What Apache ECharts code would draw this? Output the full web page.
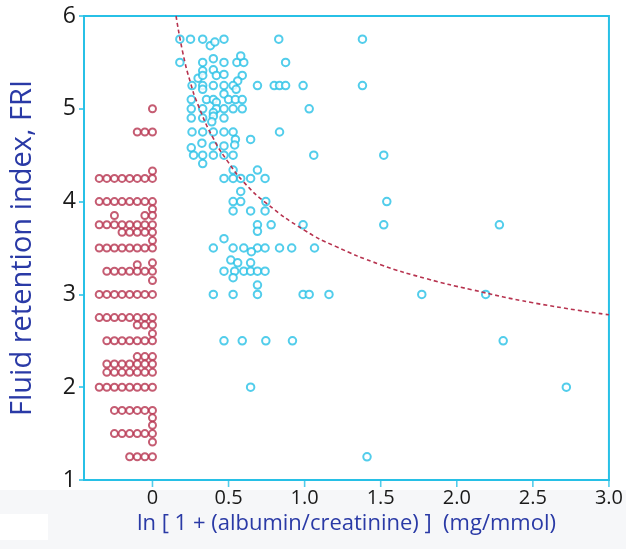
<!DOCTYPE html>
<html><head><meta charset="utf-8">
<script src="https://cdn.jsdelivr.net/npm/echarts@6/dist/echarts.min.js"></script>
<style>html,body{margin:0;padding:0;background:#fff}#c{width:626px;height:555px}</style>
</head><body><div id="c"></div>
<script>
// Albuminuria group = 0 (red) points [x, FRI]
const redPoints = [
[0,5.0],
[-0.1,4.75],[-0.05,4.75],[0,4.75],
[0,4.33],
[-0.35,4.25],[-0.3,4.25],[-0.25,4.25],[-0.2,4.25],[-0.15,4.25],[-0.1,4.25],[-0.05,4.25],[0,4.25],
[-0.35,4.0],[-0.3,4.0],[-0.25,4.0],[-0.2,4.0],[-0.15,4.0],[-0.1,4.0],[-0.05,4.0],[0,4.0],
[0,3.92],
[-0.25,3.85],[-0.05,3.85],[0,3.85],
[-0.35,3.75],[-0.3,3.75],[-0.25,3.75],[-0.2,3.75],[-0.15,3.75],[-0.1,3.75],[-0.05,3.75],[0,3.75],
[-0.2,3.67],[-0.15,3.67],[-0.1,3.67],[-0.05,3.67],[0,3.67],
[0,3.58],
[-0.35,3.5],[-0.3,3.5],[-0.25,3.5],[-0.2,3.5],[-0.15,3.5],[-0.1,3.5],[-0.05,3.5],[0,3.5],
[-0.1,3.32],[0,3.34],
[-0.3,3.25],[-0.25,3.25],[-0.2,3.25],[-0.15,3.25],[-0.1,3.25],[-0.05,3.25],[0,3.25],
[0,3.15],
[-0.35,3.0],[-0.3,3.0],[-0.25,3.0],[-0.2,3.0],[-0.15,3.0],[-0.1,3.0],[-0.05,3.0],[0,3.0],
[-0.35,2.75],[-0.3,2.75],[-0.25,2.75],[-0.2,2.75],[-0.15,2.75],[-0.1,2.75],[-0.05,2.75],[0,2.75],
[-0.1,2.67],[-0.05,2.67],[0,2.67],
[0,2.58],
[-0.3,2.5],[-0.25,2.5],[-0.2,2.5],[-0.15,2.5],[-0.1,2.5],[-0.05,2.5],[0,2.5],
[-0.1,2.33],[-0.05,2.33],[0,2.33],
[-0.3,2.25],[-0.25,2.25],[-0.2,2.25],[-0.15,2.25],[-0.1,2.25],[-0.05,2.25],[0,2.25],
[-0.3,2.16],[-0.25,2.16],[-0.2,2.16],[-0.15,2.16],[-0.1,2.16],[-0.05,2.16],[0,2.16],
[-0.35,2.0],[-0.3,2.0],[-0.25,2.0],[-0.2,2.0],[-0.15,2.0],[-0.1,2.0],[-0.05,2.0],[0,2.0],
[-0.25,1.75],[-0.2,1.75],[-0.15,1.75],[-0.1,1.75],[-0.05,1.75],[0,1.75],
[0,1.67],[0,1.59],
[-0.25,1.5],[-0.2,1.5],[-0.15,1.5],[-0.1,1.5],[-0.05,1.5],[0,1.5],
[0,1.41],
[-0.15,1.25],[-0.1,1.25],[-0.05,1.25],[0,1.25]
];

// Albuminuria > 0 (cyan) points [x, FRI]
const cyanPoints = [
[0.18,5.75],[0.25,5.75],[0.33,5.75],[0.47,5.75],[0.83,5.75],[1.38,5.75],[0.38,5.68],[0.41,5.72],
[0.18,5.5],[0.33,5.5],[0.47,5.5],[0.555,5.5],[0.6,5.5],[0.875,5.5],[0.40,5.54],[0.58,5.57],
[0.33,5.41],[0.40,5.42],
[0.30,5.33],[0.33,5.36],[0.42,5.36],[0.47,5.37],[0.59,5.36],[0.56,5.30],
[0.26,5.25],[0.33,5.25],[0.40,5.25],[0.47,5.25],[0.53,5.25],[0.69,5.25],[0.80,5.25],[0.835,5.25],[0.875,5.25],[0.99,5.25],[1.38,5.25],
[0.33,5.21],[0.55,5.21],[0.47,5.16],
[0.255,5.1],[0.355,5.1],[0.40,5.1],[0.50,5.1],[0.545,5.1],[0.59,5.1],[0.42,5.07],
[0.255,5.0],[0.33,5.0],[0.42,5.0],[0.47,5.0],[0.53,5.0],[0.59,5.0],[1.03,5.0],
[0.40,4.96],[0.40,4.92],[0.39,4.86],
[0.255,4.9],[0.33,4.9],[0.47,4.9],
[0.26,4.75],[0.33,4.75],[0.40,4.75],[0.47,4.75],[0.53,4.75],[0.835,4.75],
[0.545,4.67],[0.645,4.67],[0.54,4.61],[0.325,4.63],[0.255,4.58],[0.40,4.6],[0.47,4.6],
[0.27,4.5],[0.33,4.5],[0.40,4.5],[0.47,4.5],[0.53,4.5],[1.06,4.5],[1.52,4.5],
[0.33,4.41],
[0.53,4.34],[0.69,4.34],
[0.47,4.25],[0.53,4.25],[0.58,4.25],[0.645,4.25],[0.74,4.25],
[0.58,4.11],
[0.53,4.0],[0.58,4.0],[0.745,4.0],[1.54,4.0],
[0.53,3.9],[0.645,3.9],[0.74,3.9],
[0.69,3.75],[0.78,3.75],[0.99,3.75],[1.52,3.75],[2.28,3.75],
[0.69,3.68],
[0.47,3.6],
[0.40,3.5],[0.53,3.5],[0.60,3.5],[0.69,3.5],[0.74,3.5],[0.835,3.5],[0.915,3.5],[1.065,3.5],
[0.65,3.46],
[0.515,3.37],[0.56,3.34],[0.645,3.34],
[0.47,3.25],[0.54,3.25],[0.60,3.25],[0.645,3.25],[0.69,3.25],[0.74,3.25],
[0.53,3.18],[0.69,3.1],
[0.40,3.0],[0.53,3.0],[0.69,3.0],[0.99,3.0],[1.03,3.0],[1.16,3.0],[1.77,3.0],[2.19,3.0],
[0.47,2.5],[0.59,2.5],[0.745,2.5],[0.92,2.5],[2.305,2.5],
[0.645,2.0],[2.72,2.0],
[1.41,1.25]
];

// Fitted curve [x, FRI]
const fitCurve = [
[0.155,6.0],[0.2,5.6],[0.25,5.28],[0.3,5.04],[0.4,4.68],[0.5,4.42],[0.6,4.21],[0.75,3.98],
[1.0,3.69],[1.2,3.52],[1.5,3.32],[1.8,3.17],[2.1,3.05],[2.5,2.91],[3.0,2.78]
];

const xTickValues = [0,0.5,1.0,1.5,2.0,2.5,3.0];
const xTickLabels = ['0','0.5','1.0','1.5','2.0','2.5','3.0'];
const yTickValues = [1,2,3,4,5,6];

const CYAN = '#27c0e6';
const RED = '#b7334f';
const BLUE = '#2a3aa6';
const FONT = 'Open Sans';
const BG = '#f6f7f9';

const chart = echarts.init(document.getElementById('c'), null, {renderer:'canvas'});
chart.setOption({
  animation:false,
  backgroundColor:'#ffffff',
  textStyle:{fontFamily:FONT},
  graphic:[
    {type:'rect', z:-100, zlevel:0, silent:true, shape:{x:0,y:490,width:626,height:59}, style:{fill:BG}},
    {type:'rect', z:-99, zlevel:0, silent:true, shape:{x:0,y:514,width:48,height:26}, style:{fill:'#ffffff'}}
  ],
  grid:{left:80,right:14,top:16,bottom:75,show:true,backgroundColor:'#ffffff',borderColor:CYAN,borderWidth:2,z:0},
  xAxis:{
    type:'value', min:-0.45, max:3.0,
    name:'ln [ 1 + (albumin/creatinine) ]  (mg/mmol)',
    nameLocation:'middle', nameGap:33,
    nameTextStyle:{color:BLUE,fontSize:22,fontFamily:FONT},
    axisLine:{show:true,onZero:false,lineStyle:{color:CYAN,width:2}},
    axisTick:{show:false},
    axisLabel:{color:'#1a1a1a',fontSize:20,margin:8,fontFamily:FONT,customValues:xTickValues,
      formatter:function(v){const i=xTickValues.indexOf(v);return i>=0?xTickLabels[i]:'';}},
    splitLine:{show:false}
  },
  yAxis:{
    type:'value', min:1, max:6, interval:1,
    name:'Fluid retention index, FRI',
    nameLocation:'middle', nameGap:47,
    nameTextStyle:{color:BLUE,fontSize:29,fontFamily:FONT},
    axisLine:{show:true,onZero:false,lineStyle:{color:CYAN,width:2}},
    axisTick:{show:true,length:5,lineStyle:{color:CYAN,width:1.5}},
    axisLabel:{color:'#1a1a1a',fontSize:23,margin:8,fontFamily:FONT,
      formatter:function(v){return yTickValues.indexOf(v)>=0?String(v):'';}},
    splitLine:{show:false}
  },
  series:[
    {type:'scatter', data:redPoints, symbol:'emptyCircle', symbolSize:7,
      itemStyle:{color:RED,borderColor:RED,borderWidth:1.4}, z:3},
    {type:'scatter', data:cyanPoints, symbol:'emptyCircle', symbolSize:7.5,
      itemStyle:{color:CYAN,borderColor:CYAN,borderWidth:1.6}, z:3},
    {type:'line', data:fitCurve, smooth:true, showSymbol:false, symbol:'none',
      lineStyle:{color:RED,width:1.6,type:[4,3]}, z:4},
    // x-axis tick marks at the labelled values, placed through the axis scale
    {type:'scatter', data:xTickValues.map(function(v){return [v,1];}), symbol:'rect',
      symbolSize:[1.6,6], symbolOffset:[0,4], clip:false, silent:true,
      itemStyle:{color:CYAN}, z:5}
  ]
});
</script></body></html>
